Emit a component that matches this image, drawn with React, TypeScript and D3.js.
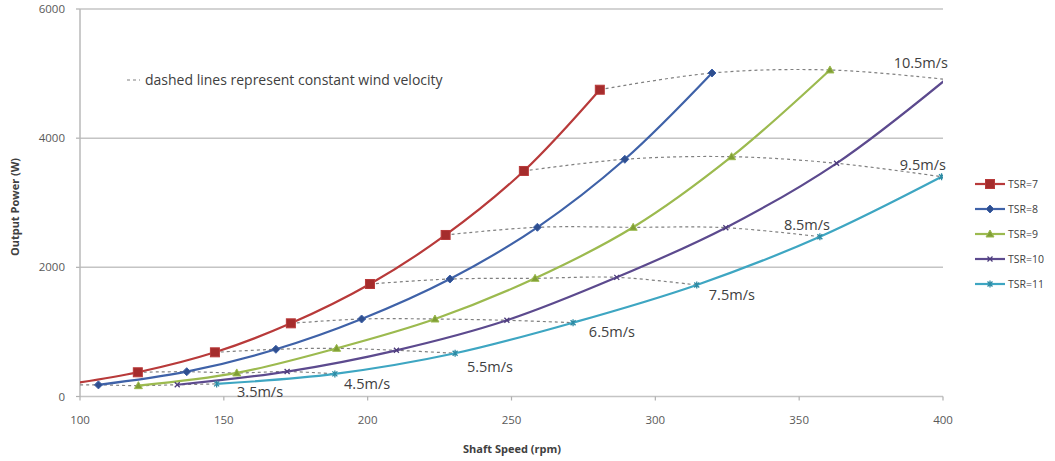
import React from "react";
import * as d3 from "d3";

const windSpeeds = ["3.5m/s", "4.5m/s", "5.5m/s", "6.5m/s", "7.5m/s", "8.5m/s", "9.5m/s", "10.5m/s"];
const seriesNames = ["TSR=7", "TSR=8", "TSR=9", "TSR=10", "TSR=11"];

const rpmTSR7 = [93.8, 120.1, 146.9, 173.3, 200.8, 227.1, 254.3, 280.7];
const powTSR7 = [175, 375, 684, 1133, 1742, 2501, 3492, 4750];
const rpmTSR8 = [106.4, 137.1, 168.1, 197.9, 228.6, 259.0, 289.4, 319.7];
const powTSR8 = [180, 384, 731, 1200, 1819, 2620, 3673, 5009];
const rpmTSR9 = [120.3, 154.5, 189.2, 223.4, 258.2, 292.3, 326.5, 360.7];
const powTSR9 = [168, 365, 746, 1200, 1830, 2620, 3713, 5056];
const rpmTSR10 = [133.8, 172.0, 210.0, 248.4, 286.6, 324.5, 363.0, 401.0];
const powTSR10 = [182, 386, 715, 1180, 1845, 2614, 3611, 4910];
const rpmTSR11 = [147.5, 188.6, 230.4, 271.4, 314.4, 357.2, 399.5];
const powTSR11 = [195, 350, 669, 1143, 1727, 2474, 3403];

const xTicks = [100, 150, 200, 250, 300, 350, 400];
const yTicks = [0, 2000, 4000, 6000];

// label anchor positions (rpm, power) for wind speed labels
const labelRpm = [162.6, 199.8, 242.5, 284.9, 326.6, 352.7, 393.0, 392.3];
const labelPow = [70, 194, 457, 999, 1572, 2656, 3585, 5164];

const colors = ["#b83a3a", "#3f62a8", "#9cba4f", "#5c4a8e", "#3ea6c2"];
const markerFill = ["#a52c2c", "#2f4f8f", "#7f9e35", "#4d3c7c", "#2d8aa3"];
const markers = ["square", "diamond", "triangle", "x", "star"];

const W = 1055;
const H = 461;
const L = 80, R = 943, T = 9, B = 396.5;

const x = d3.scaleLinear().domain([100, 400]).range([L, R]);
const y = d3.scaleLinear().domain([0, 6000]).range([B, T]);

const rpmAll = [rpmTSR7, rpmTSR8, rpmTSR9, rpmTSR10, rpmTSR11];
const powAll = [powTSR7, powTSR8, powTSR9, powTSR10, powTSR11];

function Marker({ type, cx, cy, color, fill }: any) {
  if (type === "square") return <rect x={cx - 4.5} y={cy - 4.5} width={9} height={9} fill={fill} stroke={color} strokeWidth={1} />;
  if (type === "diamond") return <path d={`M${cx},${cy - 4}L${cx + 4},${cy}L${cx},${cy + 4}L${cx - 4},${cy}Z`} fill={fill} stroke={color} strokeWidth={1} />;
  if (type === "triangle") return <path d={`M${cx},${cy - 4}L${cx + 4},${cy + 3}L${cx - 4},${cy + 3}Z`} fill={fill} stroke={color} strokeWidth={1} />;
  if (type === "x") return <path d={`M${cx - 2.5},${cy - 2.5}L${cx + 2.5},${cy + 2.5}M${cx - 2.5},${cy + 2.5}L${cx + 2.5},${cy - 2.5}`} stroke={fill} strokeWidth={1.3} fill="none" />;
  return <path d={`M${cx - 2.5},${cy - 2.5}L${cx + 2.5},${cy + 2.5}M${cx - 2.5},${cy + 2.5}L${cx + 2.5},${cy - 2.5}M${cx},${cy - 3.5}L${cx},${cy + 3.5}`} stroke={fill} strokeWidth={1.3} fill="none" />;
}

export default function App() {
  const line = d3.line<[number, number]>().x((d) => x(d[0])).y((d) => y(d[1])).curve(d3.curveCatmullRom.alpha(0.5));

  const seriesPts = rpmAll.map((rs, i) => rs.map((r, j) => [r, powAll[i][j]] as [number, number]));

  const windPts = windSpeeds.map((_, k) =>
    seriesPts.filter((s) => s.length > k).map((s) => s[k])
  );

  const font = "'Open Sans', 'Liberation Sans', Arial, sans-serif";

  return (
    <svg width={W} height={H} style={{ position: "absolute", left: 0, top: 0, background: "#fff" }} fontFamily={font}>
      <defs>
        <clipPath id="plot">
          <rect x={L} y={T - 2} width={R - L} height={B - T + 2} />
        </clipPath>
      </defs>
      {/* gridlines */}
      {yTicks.map((t) => (
        <g key={t}>
          <line x1={L} x2={R} y1={y(t)} y2={y(t)} stroke="#c4c4c4" strokeWidth={1.5} />
          <line x1={L - 4} x2={L} y1={y(t)} y2={y(t)} stroke="#b0b0b0" strokeWidth={1.2} />
          <text x={L - 15} y={y(t)} dy="0.35em" textAnchor="end" fontSize={11.5} fill="#595959">{t}</text>
        </g>
      ))}
      <line x1={L} x2={L} y1={T} y2={B} stroke="#b8b8b8" strokeWidth={1.5} />
      {xTicks.map((t) => (
        <g key={t}>
          <line x1={x(t)} x2={x(t)} y1={B} y2={B + 4} stroke="#b0b0b0" strokeWidth={1.2} />
          <text x={x(t)} y={420} dy="0.35em" textAnchor="middle" fontSize={11.5} fill="#595959">{t}</text>
        </g>
      ))}

      {/* constant wind velocity dashed lines */}
      <g clipPath="url(#plot)">
        {windPts.map((pts, k) => (
          <path key={k} d={line(pts) || ""} fill="none" stroke="#808080" strokeWidth={1.2} strokeDasharray="3,3" />
        ))}
        {seriesPts.map((pts, i) => (
          <path key={i} d={line(pts) || ""} fill="none" stroke={colors[i]} strokeWidth={2.2} />
        ))}
        {seriesPts.map((pts, i) =>
          pts
            .filter((p) => p[0] >= 100 && p[0] <= 400)
            .map((p, j) => (
              <Marker key={`${i}-${j}`} type={markers[i]} cx={x(p[0])} cy={y(p[1])} color={colors[i]} fill={markerFill[i]} />
            ))
        )}
      </g>

      {/* wind speed labels */}
      {windSpeeds.map((w, k) => (
        <text key={w} x={x(labelRpm[k])} y={y(labelPow[k])} dy="0.35em" textAnchor="middle" fontSize={14.5} fill="#404040">{w}</text>
      ))}

      {/* annotation */}
      <line x1={127} x2={140} y1={80} y2={80} stroke="#808080" strokeWidth={1.2} strokeDasharray="3,3" />
      <text x={145} y={80} dy="0.35em" fontSize={14} fill="#404040">dashed lines represent constant wind velocity</text>

      {/* axis titles */}
      <text x={512} y={449} dy="0.35em" textAnchor="middle" fontSize={11} fontWeight="bold" fill="#404040">Shaft Speed (rpm)</text>
      <text transform="translate(15,207) rotate(-90)" dy="0.35em" textAnchor="middle" fontSize={11} fontWeight="bold" fill="#404040">Output Power (W)</text>

      {/* legend */}
      {seriesNames.map((n, i) => {
        const ly = 184 + i * 25;
        return (
          <g key={n}>
            <line x1={975} x2={1005} y1={ly} y2={ly} stroke={colors[i]} strokeWidth={2.2} />
            <Marker type={markers[i]} cx={990} cy={ly} color={colors[i]} fill={markerFill[i]} />
            <text x={1008} y={ly} dy="0.35em" fontSize={10.5} fill="#404040">{n}</text>
          </g>
        );
      })}
    </svg>
  );
}
